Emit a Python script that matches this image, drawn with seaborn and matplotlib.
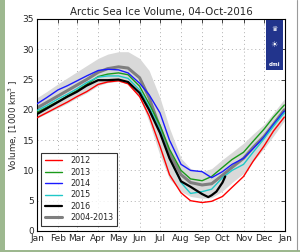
#!/usr/bin/env python3
"""Arctic sea ice volume, DMI style chart (04-Oct-2016)."""

import pandas as pd
import matplotlib
matplotlib.use("Agg")
import matplotlib.pyplot as plt
from matplotlib.patches import Rectangle
from matplotlib.lines import Line2D
import seaborn as sns

# --- Data (1000 km^3) ---
DAYS = [0, 14, 31, 45, 59, 73, 90, 104, 120, 134, 151, 165, 181, 195,
        212, 226, 243, 257, 273, 287, 304, 318, 334, 348, 364]

vol_2012 = [18.7, 19.5, 20.5, 21.3, 22.2, 23.0, 24.2, 24.6, 24.8, 24.3, 22.2, 19.0, 14.0, 9.3,
            6.3, 5.0, 4.7, 4.9, 5.7, 7.2, 9.0, 11.5, 14.0, 16.5, 18.8]
vol_2013 = [19.6, 20.4, 21.4, 22.3, 23.2, 24.2, 25.5, 25.9, 26.1, 25.8, 23.9, 21.0, 17.5, 13.5,
            10.0, 8.6, 8.3, 9.0, 10.5, 11.8, 13.0, 14.8, 16.8, 18.8, 20.8]
vol_2014 = [21.0, 22.0, 23.3, 24.0, 24.8, 25.6, 26.5, 26.7, 26.6, 26.1, 24.4, 22.5, 19.5, 15.0,
            11.0, 10.0, 9.8, 8.8, 9.8, 11.0, 12.0, 13.6, 15.5, 17.6, 19.8]
vol_2015 = [19.9, 20.7, 21.8, 22.6, 23.5, 24.5, 25.4, 25.6, 25.6, 25.2, 23.3, 20.5, 16.7, 12.0,
            8.0, 6.2, 6.5, 6.9, 8.8, 10.0, 11.0, 13.0, 15.2, 17.3, 19.5]
vol_mean = [20.3, 21.2, 22.3, 23.2, 24.1, 25.0, 26.2, 26.8, 27.1, 26.9, 25.3, 22.0, 17.0, 12.8,
            9.3, 8.0, 7.6, 7.8, 9.2, 10.5, 12.0, 13.8, 15.6, 17.6, 20.0]
band_hi = [22.0, 23.0, 24.3, 25.3, 26.3, 27.3, 28.5, 29.2, 29.6, 29.6, 28.5, 26.5, 22.0, 17.0,
           12.0, 10.3, 9.8, 10.3, 11.8, 13.0, 14.5, 16.0, 17.6, 19.5, 21.8]
band_lo = [18.6, 19.4, 20.3, 21.1, 22.0, 22.8, 24.0, 24.5, 24.7, 24.3, 22.0, 18.0, 12.5, 8.6,
           6.5, 5.7, 5.4, 5.5, 6.6, 8.0, 9.5, 11.5, 13.6, 15.7, 18.2]

DAYS_2016 = [0, 14, 31, 45, 59, 73, 90, 104, 120, 134, 151, 165, 181, 195,
             212, 226, 243, 252, 257, 264, 273, 277]
vol_2016 = [19.3, 20.2, 21.3, 22.2, 23.0, 24.0, 24.9, 24.9, 25.0, 24.6, 22.8, 20.0, 16.2, 12.0,
            8.2, 7.3, 6.1, 5.6, 5.9, 6.5, 8.0, 9.0]

MONTH_DAYS = [0, 31, 59, 90, 120, 151, 181, 212, 243, 273, 304, 334, 365]
MONTH_LABELS = ["Jan", "Feb", "Mar", "Apr", "May", "Jun", "Jul", "Aug", "Sep",
                "Oct", "Nov", "Dec", "Jan"]

SERIES = [
    ("2012", DAYS, vol_2012, "#ff0000", 1.0),
    ("2013", DAYS, vol_2013, "#1a9a1a", 1.0),
    ("2014", DAYS, vol_2014, "#1a1aff", 1.0),
    ("2015", DAYS, vol_2015, "#20c8c8", 1.0),
    ("2016", DAYS_2016, vol_2016, "#000000", 1.6),
    ("2004-2013", DAYS, vol_mean, "#7f7f7f", 2.2),
]


def main() -> None:
    sns.set_style("white")
    plt.rcParams["font.family"] = ["DejaVu Sans"]

    fig = plt.figure(figsize=(3.0, 2.52), dpi=100, facecolor="#9db88f")
    # white panel on top of the map-coloured background
    fig.patches.append(Rectangle((5 / 300, 2 / 252), 295 / 300, 250 / 252,
                                 transform=fig.transFigure, facecolor="white",
                                 edgecolor="none", zorder=-5))
    fig.lines.append(Line2D([297 / 300, 297 / 300], [2 / 252, 1.0], transform=fig.transFigure,
                            color="#9a9a9a", linewidth=0.8, zorder=-4))
    ax = fig.add_axes([37 / 300, 21 / 252, 248 / 300, 212 / 252])
    ax.set_zorder(2)

    ax.fill_between(DAYS, band_lo, band_hi, color="#d9d9d9", linewidth=0, zorder=1)

    for label, x, y, color, lw in SERIES:
        df = pd.DataFrame({"day": x, "vol": y})
        sns.lineplot(data=df, x="day", y="vol", color=color, linewidth=lw,
                     label=label, ax=ax, zorder=3 if label != "2004-2013" else 2)

    ax.set_xlim(0, 365)
    ax.set_ylim(0, 35)
    ax.set_xticks(MONTH_DAYS)
    ax.set_xticklabels(MONTH_LABELS)
    ax.set_yticks(range(0, 36, 5))
    ax.tick_params(axis="both", direction="in", length=3, width=0.6,
                   labelsize=6.5, top=True, right=True, pad=2)
    ax.grid(True, linestyle=(0, (1, 3)), color="#b0b0b0", linewidth=0.7)
    for spine in ax.spines.values():
        spine.set_color("black")
        spine.set_linewidth(0.8)

    ax.set_xlabel("")
    ax.set_ylabel("Volume, [1000 km$^3$ ]", fontsize=6.2, labelpad=2)
    ax.set_title("Arctic Sea Ice Volume, 04-Oct-2016", fontsize=7.4, pad=3)

    leg = ax.legend(loc="lower left", fontsize=5.8, frameon=True, fancybox=False,
                    borderpad=0.45, labelspacing=0.3, handlelength=2.1,
                    handletextpad=1.1, borderaxespad=0.0,
                    bbox_to_anchor=(0.016, 0.024))
    leg.get_frame().set_edgecolor("black")
    leg.get_frame().set_linewidth(0.8)

    # DMI logo block in the top-right corner
    ax.add_patch(Rectangle((0.923, 0.76), 0.069, 0.235, transform=ax.transAxes,
                           facecolor="#22348c", edgecolor="none", zorder=5))
    ax.text(0.9575, 0.955, "\u265b", transform=ax.transAxes, color="white",
            fontsize=5, ha="center", va="center", zorder=6)
    ax.text(0.9575, 0.88, "\u2600", transform=ax.transAxes, color="white",
            fontsize=6, ha="center", va="center", zorder=6)
    ax.text(0.9575, 0.785, "dmi", transform=ax.transAxes, color="white",
            fontsize=4, fontweight="bold", ha="center", va="center", zorder=6)

    fig.savefig("out.png", dpi=100, facecolor=fig.get_facecolor())
    plt.close(fig)


if __name__ == "__main__":
    main()
